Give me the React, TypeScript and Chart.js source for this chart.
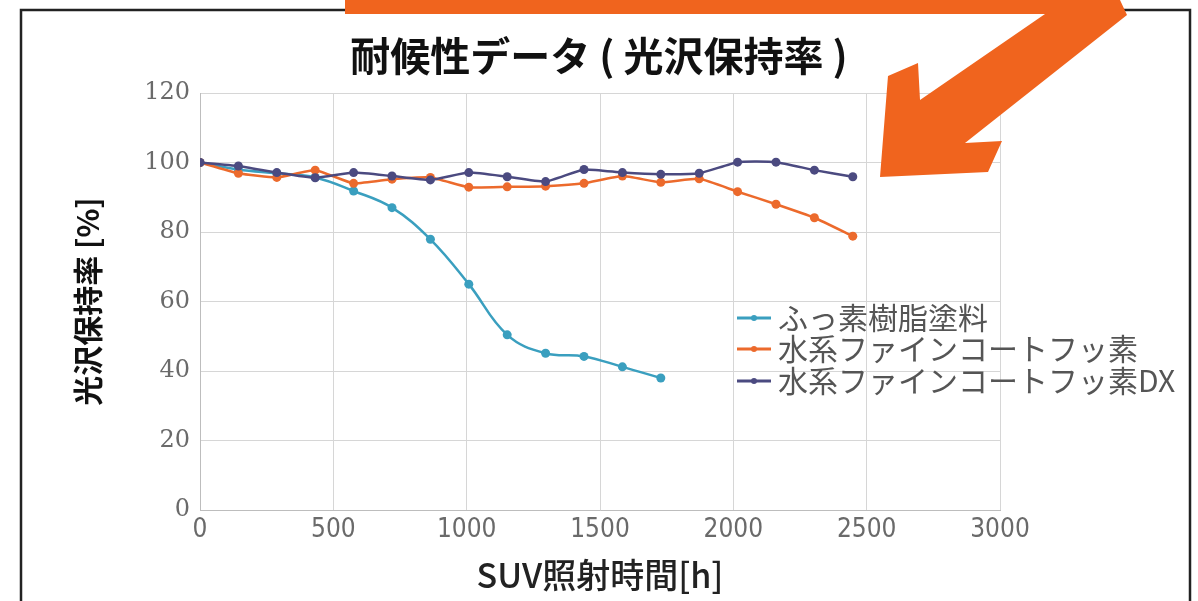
import React, { useEffect, useRef } from "react";
import { Chart, registerables } from "chart.js";

Chart.register(...registerables);

const chartTitle = "耐候性データ ( 光沢保持率 )";
const xAxisTitle = "SUV照射時間[h]";
const yAxisTitle = "光沢保持率 [%]";

const hours = [0, 144, 288, 432, 576, 720, 864, 1008, 1152, 1296, 1440, 1584, 1728, 1872, 2016, 2160, 2304, 2448];

const seriesNames = ["ふっ素樹脂塗料", "水系ファインコートフッ素", "水系ファインコートフッ素DX"];
const fluoroResin = [100, 98, 96.9, 95.7, 91.8, 87, 77.9, 65, 50.4, 45.1, 44.2, 41.2, 38];
const waterFine = [100, 96.9, 95.7, 97.8, 94, 95.2, 95.7, 92.9, 93, 93.2, 94, 96.1, 94.3, 95.3, 91.6, 88, 84.1, 78.8];
const waterFineDX = [100, 99, 97.1, 95.6, 97.1, 96.1, 95, 97.1, 95.9, 94.5, 98, 97.1, 96.6, 96.9, 100.1, 100.1, 97.8, 95.9];

const xTicks = [0, 500, 1000, 1500, 2000, 2500, 3000];
const yTicks = [0, 20, 40, 60, 80, 100, 120];

const colors = ["#3a9fbf", "#ec6a2c", "#4b4a80"];

const toPoints = (vals: number[]) => vals.map((v, i) => ({ x: hours[i], y: v }));

const decorPlugin = {
  id: "decor",
  beforeDraw(chart: any) {
    const ctx = chart.ctx;
    ctx.save();
    ctx.fillStyle = "#ffffff";
    ctx.fillRect(0, 0, chart.width, chart.height);
    ctx.strokeStyle = "#222222";
    ctx.lineWidth = 2.5;
    ctx.beginPath();
    ctx.moveTo(21, 601);
    ctx.lineTo(21, 10);
    ctx.lineTo(1190, 10);
    ctx.lineTo(1190, 601);
    ctx.stroke();
    // title
    ctx.fillStyle = "#111111";
    ctx.font = "bold 40px 'Noto Sans CJK JP'";
    ctx.textAlign = "center";
    ctx.textBaseline = "middle";
    ctx.fillText(chartTitle, 599, 56);
    ctx.restore();
  },
  afterDraw(chart: any) {
    const ctx = chart.ctx;
    ctx.save();
    // legend
    const lx = 737;
    const rows = [318, 349, 381];
    ctx.font = "30px 'Noto Sans CJK JP'";
    ctx.textAlign = "left";
    ctx.textBaseline = "middle";
    seriesNames.forEach((name, i) => {
      ctx.strokeStyle = colors[i];
      ctx.lineWidth = 3;
      ctx.beginPath();
      ctx.moveTo(lx, rows[i]);
      ctx.lineTo(lx + 34, rows[i]);
      ctx.stroke();
      ctx.fillStyle = colors[i];
      ctx.beginPath();
      ctx.arc(lx + 17, rows[i], 3, 0, Math.PI * 2);
      ctx.fill();
      ctx.fillStyle = "#555555";
      ctx.fillText(name, lx + 41, rows[i]);
    });
    // orange arrow banner
    ctx.fillStyle = "#f0641e";
    ctx.beginPath();
    const poly = [
      [345, 0], [1120, 0], [1127, 15], [965, 143], [1002, 141], [988, 172],
      [880, 177], [888, 76], [918, 63], [920, 100], [1045, 14], [345, 14],
    ];
    poly.forEach(([px, py], i) => (i === 0 ? ctx.moveTo(px, py) : ctx.lineTo(px, py)));
    ctx.closePath();
    ctx.fill();
    ctx.restore();
  },
};

export default function App() {
  const ref = useRef<HTMLCanvasElement>(null);
  useEffect(() => {
    if (!ref.current) return;
    const mk = (i: number, vals: number[], tension: number, order: number) => ({
      label: seriesNames[i],
      data: toPoints(vals),
      borderColor: colors[i],
      backgroundColor: colors[i],
      borderWidth: 2.5,
      pointRadius: 4.5,
      pointBorderWidth: 0,
      tension,
      order,
    });
    const chart = new Chart(ref.current, {
      type: "line",
      data: {
        datasets: [
          mk(0, fluoroResin, 0.4, 3),
          mk(1, waterFine, 0.15, 2),
          mk(2, waterFineDX, 0.15, 1),
        ],
      },
      options: {
        animation: false,
        responsive: false,
        layout: { padding: { left: 60, top: 93, right: 198, bottom: 0 } },
        plugins: { legend: { display: false }, tooltip: { enabled: false }, title: { display: false } },
        scales: {
          x: {
            type: "linear",
            min: 0,
            max: 3000,
            afterFit: (s: any) => { s.height = 91; },
            afterBuildTicks: (s: any) => { s.ticks = xTicks.map((v) => ({ value: v })); },
            grid: { color: "#d6d6d6", lineWidth: 1, drawTicks: false },
            border: { color: "#bdbdbd" },
            ticks: {
              padding: 5,
              color: "#6a6a6a",
              font: { family: "'DejaVu Sans Condensed', 'Liberation Sans Narrow', 'Roboto', sans-serif", size: 26 },
              maxRotation: 0,
              callback: (v: any) => String(v),
            },
            title: {
              display: true,
              text: xAxisTitle,
              color: "#222222",
              font: { family: "'Noto Sans CJK JP'", size: 34, weight: "500" },
              padding: { top: 0, bottom: 6 },
            },
          },
          y: {
            min: 0,
            max: 120,
            afterFit: (s: any) => { s.width = 140; },
            afterBuildTicks: (s: any) => { s.ticks = yTicks.map((v) => ({ value: v })); },
            grid: { color: "#d6d6d6", lineWidth: 1, drawTicks: false },
            border: { color: "#bdbdbd" },
            ticks: {
              padding: 10,
              color: "#6a6a6a",
              font: { family: "'DejaVu Serif', serif", size: 24 },
              callback: (v: any) => String(v),
            },
            title: {
              display: true,
              text: yAxisTitle,
              color: "#111111",
              font: { family: "'Noto Sans CJK JP'", size: 30, weight: "bold" },
              padding: { top: 10, bottom: 0 },
            },
          },
        },
      },
      plugins: [decorPlugin],
    } as any);
    return () => chart.destroy();
  }, []);
  return (
    <div style={{ position: "absolute", left: 0, top: 0, width: 1198, height: 601 }}>
      <canvas ref={ref} width={1198} height={601} />
    </div>
  );
}
